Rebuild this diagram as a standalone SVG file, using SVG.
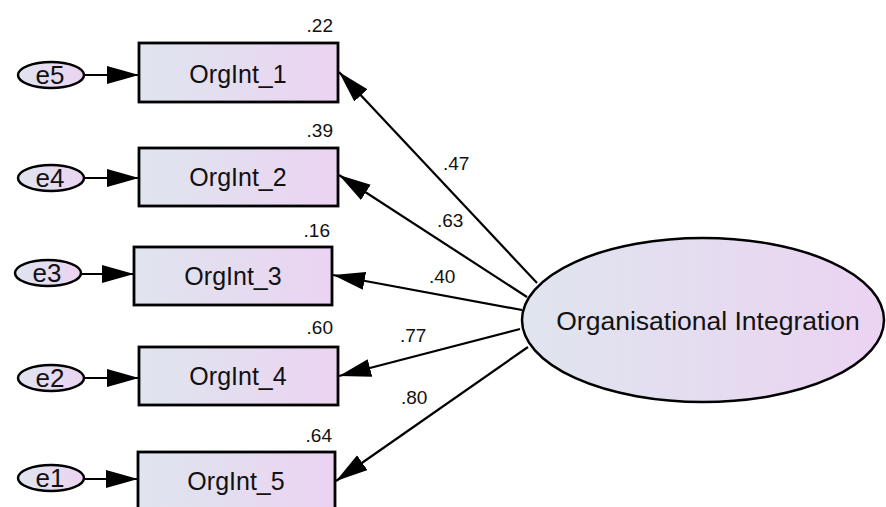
<svg xmlns="http://www.w3.org/2000/svg" width="886" height="507" viewBox="0 0 886 507">
<defs>
<linearGradient id="g" x1="0" y1="0" x2="1" y2="0">
<stop offset="0" stop-color="#dfe5ee"/>
<stop offset="1" stop-color="#ebd3f2"/>
</linearGradient>
<marker id="arr" markerUnits="userSpaceOnUse" markerWidth="34" markerHeight="20" refX="32" refY="9" orient="auto">
<path d="M0,0 L32,9 L0,18 Z" fill="#000"/>
</marker>
</defs>
<style>
.box{fill:url(#g);stroke:#000;stroke-width:2.8}
.el{fill:url(#g);stroke:#000;stroke-width:2.5}
.t{font-family:"Liberation Sans",Arial,sans-serif;fill:#111}
.bt{font-size:25px;text-anchor:middle}
.et{font-size:26px;text-anchor:middle}
.lt{font-size:19px}
.rt{font-size:19px;text-anchor:end}
.c{stroke:#000;stroke-width:2.2;fill:none;marker-end:url(#arr)}
</style>
<rect width="886" height="507" fill="#fff"/>
<g id="connectors">
<path class="c" d="M85,75 L139,75"/>
<path class="c" d="M85,178 L139,178"/>
<path class="c" d="M81,274 L134,274"/>
<path class="c" d="M85,378 L139,378"/>
<path class="c" d="M85,479 L138,479"/>
<path class="c" d="M537,283 L339,72"/>
<path class="c" d="M527,297 L339,175"/>
<path class="c" d="M522,310 L333,275"/>
<path class="c" d="M520,329 L339,376"/>
<path class="c" d="M528,347 L336,481"/>
<text class="t lt" x="443" y="170">.47</text>
<text class="t lt" x="437" y="227">.63</text>
<text class="t lt" x="429" y="283">.40</text>
<text class="t lt" x="400" y="342">.77</text>
<text class="t lt" x="401" y="404">.80</text>
</g>
<g id="OrgInt_1">
<rect class="box" x="139" y="43" width="199" height="59"/>
<text class="t bt" x="238" y="83">OrgInt_1</text>
<text class="t rt" x="333" y="32">.22</text>
</g>
<g id="OrgInt_2">
<rect class="box" x="139" y="148" width="199" height="58"/>
<text class="t bt" x="238" y="186">OrgInt_2</text>
<text class="t rt" x="333" y="137">.39</text>
</g>
<g id="OrgInt_3">
<rect class="box" x="134" y="247" width="198" height="58"/>
<text class="t bt" x="233" y="285">OrgInt_3</text>
<text class="t rt" x="330" y="237">.16</text>
</g>
<g id="OrgInt_4">
<rect class="box" x="139" y="347" width="199" height="58"/>
<text class="t bt" x="238" y="385">OrgInt_4</text>
<text class="t rt" x="333" y="334">.60</text>
</g>
<g id="OrgInt_5">
<rect class="box" x="138" y="452" width="197" height="59"/>
<text class="t bt" x="236" y="490">OrgInt_5</text>
<text class="t rt" x="332" y="442">.64</text>
</g>
<g id="e5"><ellipse class="el" cx="51" cy="75" rx="33" ry="13"/><text class="t et" x="50" y="84">e5</text></g>
<g id="e4"><ellipse class="el" cx="51" cy="178" rx="33" ry="13"/><text class="t et" x="50" y="187">e4</text></g>
<g id="e3"><ellipse class="el" cx="48" cy="273" rx="33" ry="13"/><text class="t et" x="47" y="282">e3</text></g>
<g id="e2"><ellipse class="el" cx="51" cy="378" rx="33" ry="13"/><text class="t et" x="50" y="387">e2</text></g>
<g id="e1"><ellipse class="el" cx="51" cy="478" rx="33" ry="13"/><text class="t et" x="50" y="487">e1</text></g>
<g id="OrganisationalIntegration">
<ellipse class="el" cx="703" cy="320" rx="181" ry="82"/>
<text class="t" x="708" y="330" font-size="26.5" text-anchor="middle">Organisational Integration</text>
</g>
</svg>
